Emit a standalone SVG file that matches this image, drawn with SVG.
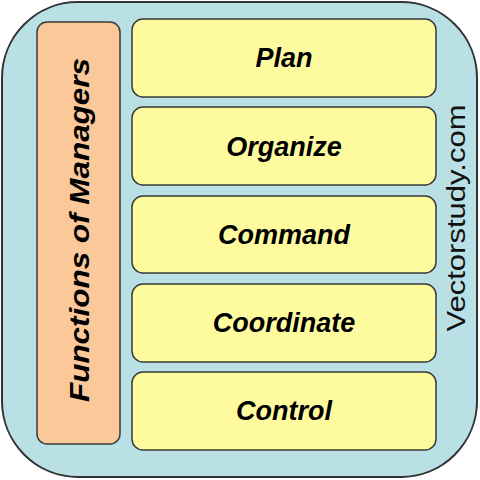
<svg xmlns="http://www.w3.org/2000/svg" width="480" height="480" viewBox="0 0 480 480">
<style>
.box{fill:#fefb9f;stroke:#3a3a3a;stroke-width:1.5}
.lbl{font-family:"Liberation Sans",Arial,sans-serif;font-weight:bold;font-style:italic;font-size:27px;fill:#000;text-anchor:middle}
</style>
<rect x="2" y="2" width="475" height="475" rx="76" ry="76" fill="#b9e0e4" stroke="#333" stroke-width="2"/>
<g id="functions">
<rect x="37" y="22" width="83" height="422" rx="10" ry="10" fill="#fbc89a" stroke="#3a3a3a" stroke-width="1.5"/>
<text class="lbl" transform="translate(89,230) rotate(-90)" x="0" y="0" textLength="344" lengthAdjust="spacingAndGlyphs">Functions of Managers</text>
</g>
<g id="plan"><rect class="box" x="132" y="19" width="304" height="78" rx="11"/><text class="lbl" x="284" y="67">Plan</text></g>
<g id="organize"><rect class="box" x="132" y="107" width="304" height="78" rx="11"/><text class="lbl" x="284" y="156">Organize</text></g>
<g id="command"><rect class="box" x="132" y="196" width="304" height="77" rx="11"/><text class="lbl" x="284" y="244">Command</text></g>
<g id="coordinate"><rect class="box" x="132" y="284" width="304" height="78" rx="11"/><text class="lbl" x="284" y="332">Coordinate</text></g>
<g id="control"><rect class="box" x="132" y="372" width="304" height="78" rx="11"/><text class="lbl" x="284" y="420">Control</text></g>
<g id="connectors"/>
<text transform="translate(465,218) rotate(-90)" x="0" y="0" font-family="'Liberation Sans',Arial,sans-serif" font-size="25" text-anchor="middle" fill="#111" textLength="227" lengthAdjust="spacingAndGlyphs">Vectorstudy.com</text>
</svg>
